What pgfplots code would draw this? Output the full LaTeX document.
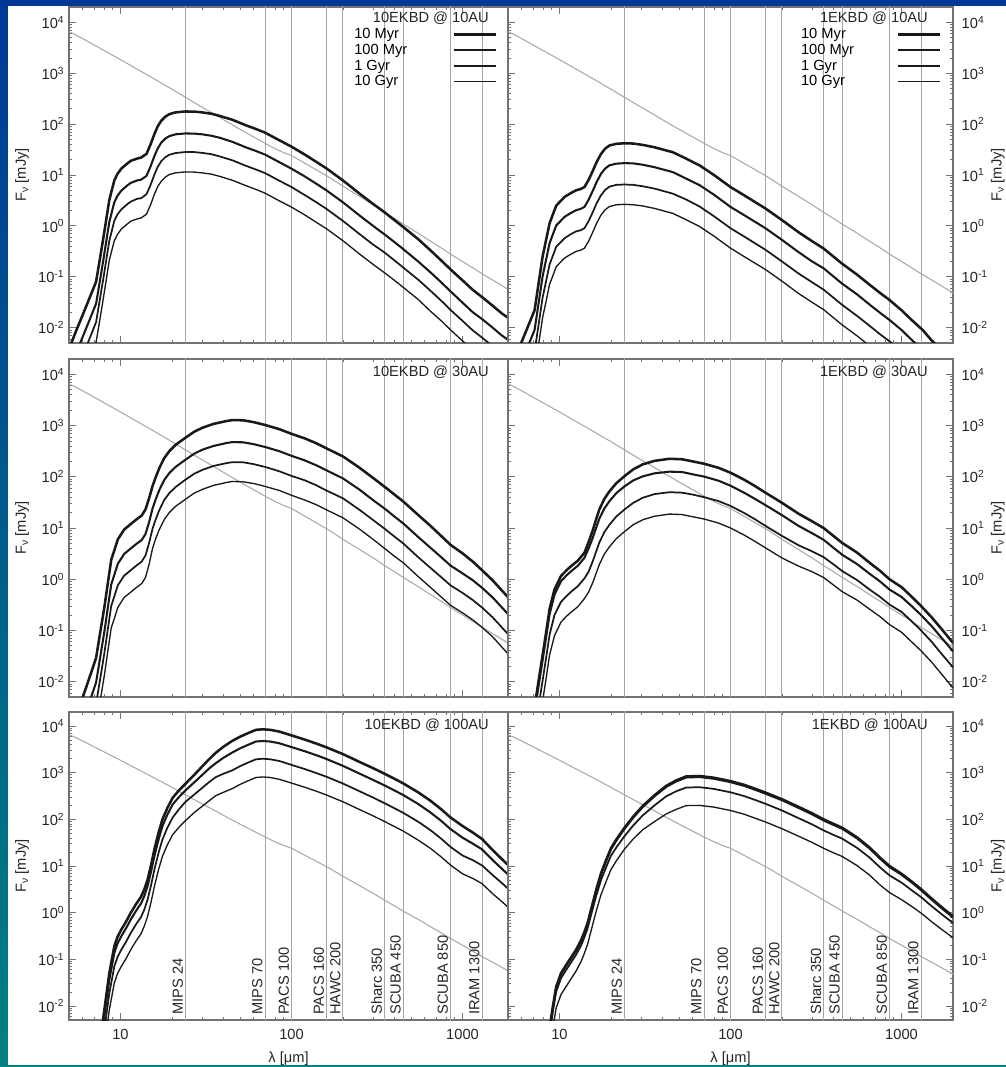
\documentclass[border=0pt]{standalone}
\usepackage{fontspec}
\setmainfont{Liberation Sans}
\usepackage{pgfplots}
\usepackage{pgfplotstable}
\pgfplotsset{compat=1.18}

\definecolor{bgtop}{RGB}{0,56,150}
\definecolor{bgbot}{RGB}{0,128,128}
\definecolor{instr}{RGB}{165,165,165}
\definecolor{starc}{RGB}{170,170,170}
\definecolor{frame}{RGB}{115,115,115}

\pgfplotstableread{
lam f
5 6500
5.4 5800
6 4800
7 3600
8 2800
9 2250
10 1850
12 1300
15 850
18 595
20 485
24 335
30 215
35 160
40 122
50 79
60 56
70 42
80 33
90 27.5
100 24
110 20
130 14.5
150 11
170 8.6
200 6.0
250 3.8
300 2.6
350 1.85
400 1.4
450 1.08
550 0.72
650 0.5
750 0.37
850 0.28
1000 0.2
1300 0.115
1600 0.076
2000 0.048
}\tabStar

\pgfplotstableread{
lam a b c d
5.0 0.0038 0.0014 0.0006 0.00025
5.5 0.0086 0.0032 0.00136 0.00056
6.0 0.0175 0.0065 0.0028 0.00114
6.5 0.034 0.0126 0.0054 0.0022
7.0 0.063 0.0233 0.0101 0.0041
7.2 0.08 0.0296 0.0128 0.0052
7.6 0.236 0.087 0.038 0.0153
7.9 0.52 0.192 0.083 0.034
8.2 1.15 0.43 0.184 0.075
8.6 3.2 1.18 0.51 0.21
9.2 7.8 2.9 1.25 0.51
9.6 10.5 3.9 1.68 0.68
10.1 13.3 4.9 2.1 0.86
11 17 6.3 2.7 1.1
11.5 19 7.0 3.0 1.24
12.5 21 7.8 3.4 1.37
13.2 22 8.1 3.5 1.43
14.2 26 9.6 4.2 1.7
15 40 14.8 6.4 2.6
15.8 64 23.7 10.2 4.2
16.5 90 33 14.4 5.9
17.3 116 43 18.6 7.5
18.3 140 52 22.4 9.1
19.3 157 58 25 10.2
21 170 63 27 11
24 177 65.5 28.3 11.5
27 176 65 28.2 11.4
30 170 63 27.2 11
34 160 59 25.6 10.4
38 145 54 23.2 9.4
45 122 45 19.5 7.9
54 95 35 15.2 6.2
62 80 29.6 12.8 5.2
70 68 25.2 10.9 4.4
85 48 17.8 7.7 3.1
100 36 13.3 5.8 2.34
120 25 9.3 4.0 1.63
140 18 6.7 2.9 1.17
160 13.5 5.0 2.16 0.88
200 7.8 2.9 1.25 0.51
250 4.3 1.6 0.69 0.28
300 2.7 1.0 0.43 0.175
350 1.85 0.68 0.3 0.12
400 1.3 0.48 0.21 0.085
450 0.95 0.35 0.152 0.062
550 0.55 0.2 0.088 0.036
650 0.33 0.122 0.053 0.021
750 0.21 0.078 0.034 0.0137
850 0.14 0.052 0.0224 0.0091
1000 0.085 0.031 0.0136 0.0055
1150 0.055 0.02 0.0088 0.0036
1300 0.04 0.0148 0.0064 0.0026
1500 0.027 0.01 0.0043 0.0018
1700 0.019 0.007 0.003 0.0012
2000 0.013 0.0048 0.0021 0.00085
}\tabA

\pgfplotstableread{
lam a b c d
5.0 0.0012 0.00049 0.00019 0.000076
5.5 0.0026 0.00106 0.0004 0.00016
6.0 0.0052 0.0021 0.0008 0.00033
6.5 0.01 0.0041 0.00155 0.00063
7.15 0.022 0.009 0.0034 0.0014
7.5 0.064 0.026 0.0099 0.004
7.97 0.25 0.102 0.039 0.0158
8.35 0.53 0.216 0.082 0.033
8.75 1.12 0.456 0.174 0.071
9.1 1.6 0.65 0.248 0.1
9.57 2.5 1.02 0.39 0.158
10.7 3.7 1.5 0.57 0.233
11.5 4.3 1.75 0.67 0.27
12.5 5.0 2.03 0.78 0.315
13.3 5.3 2.16 0.82 0.334
14 5.8 2.36 0.9 0.365
14.8 8 3.26 1.24 0.5
15.7 12.3 5.0 1.9 0.77
16.5 18 7.3 2.8 1.13
17.5 26 10.6 4.0 1.64
18.5 33 13.4 5.1 2.08
19.6 38 15.5 5.9 2.4
21.5 41 16.7 6.4 2.6
24 42 17.1 6.5 2.65
27 41.5 16.9 6.4 2.6
30.7 39 15.9 6.0 2.46
36 35 14.2 5.4 2.2
46 28 11.4 4.3 1.76
55 21 8.5 3.3 1.32
66 15.4 6.3 2.4 0.97
80 10 4.1 1.55 0.63
100 5.8 2.36 0.9 0.365
120 4.0 1.63 0.62 0.25
160 2.2 0.9 0.34 0.139
200 1.3 0.53 0.2 0.082
250 0.75 0.305 0.116 0.047
300 0.5 0.2 0.078 0.0315
350 0.36 0.147 0.056 0.0227
450 0.18 0.073 0.028 0.0113
550 0.11 0.045 0.017 0.0069
650 0.07 0.0285 0.0109 0.0044
750 0.048 0.0195 0.0074 0.003
850 0.035 0.0142 0.0054 0.0022
1000 0.022 0.009 0.0034 0.0014
1150 0.014 0.0057 0.0022 0.00088
1330 0.009 0.0037 0.0014 0.00057
1500 0.0056 0.0023 0.00087 0.00035
1700 0.0038 0.00155 0.0006 0.00024
2000 0.0024 0.001 0.00037 0.00015
}\tabB

\pgfplotstableread{
lam a b c d
5.0 0.00078 0.00026 0.0001 0.000037
5.5 0.002 0.00066 0.00025 0.000094
6.0 0.0048 0.0016 0.0006 0.000225
6.5 0.0105 0.0035 0.0013 0.00049
7.2 0.029 0.0096 0.0037 0.00136
7.6 0.088 0.029 0.011 0.0041
8.07 0.3 0.1 0.038 0.014
8.45 0.87 0.29 0.11 0.041
8.83 2.4 0.79 0.3 0.112
9.2 3.65 1.21 0.46 0.17
9.65 6.0 2.0 0.76 0.28
10.5 9.3 3.1 1.17 0.44
11.5 12 4.0 1.5 0.56
12.4 14.7 4.9 1.85 0.69
13.3 17.5 5.8 2.2 0.82
14 23 7.6 2.9 1.08
14.7 38 13 5.1 1.95
15.4 66 24 9.7 4.0
16.1 100 37 15 6.3
16.9 150 56 22.6 9.5
18 230 86 35 14.5
19.3 316 118 48 20
21 420 156 63 26.5
24 580 216 88 36.5
27 760 283 115 48
30.2 910 340 137 57
35 1080 400 163 68
41.3 1220 454 184 77
45 1280 476 193 81
52 1270 472 192 80
60 1170 435 177 74
70 1030 383 156 65
85 850 316 128 54
100 690 257 104 43.5
120 560 208 85 35
140 450 167 68 28.4
160 360 134 54 22.7
200 250 93 38 15.8
250 150 56 22.6 9.5
300 95 35 14.3 6.0
350 64 24 9.7 4.0
400 45 16.7 6.8 2.8
450 33 12.3 5.0 2.1
550 18 6.7 2.7 1.13
650 11 4.1 1.66 0.69
750 7 2.7 1.1 0.45
850 4.7 1.85 0.76 0.31
1000 3.2 1.3 0.54 0.22
1150 2.2 0.95 0.39 0.16
1300 1.5 0.68 0.28 0.115
1500 0.95 0.44 0.18 0.075
1700 0.6 0.28 0.114 0.047
2000 0.33 0.155 0.063 0.026
}\tabC

\pgfplotstableread{
lam a b c d
6.8 0.001 0.00079 0.00032 0.000126
7.0 0.002 0.0016 0.00063 0.00025
7.3 0.005 0.004 0.00158 0.00063
7.6 0.012 0.0095 0.0038 0.0015
8.0 0.036 0.0286 0.0114 0.0045
8.4 0.104 0.083 0.033 0.0131
8.75 0.26 0.206 0.082 0.033
9.35 0.63 0.5 0.2 0.079
10.2 1.15 0.91 0.36 0.145
11 1.5 1.19 0.47 0.19
11.7 1.8 1.43 0.57 0.227
12.8 2.3 1.83 0.73 0.29
14 3.3 2.62 1.04 0.42
14.8 5.3 4.0 1.4 0.56
15.7 9.3 6.6 2.3 0.88
16.4 15 10.2 3.5 1.32
17.1 23 15.2 5.2 1.93
18.3 37 24 8.3 3.1
19.6 52 33.5 11.6 4.3
21.5 75 48 16.8 6.2
24 103 65 23 8.5
27 140 85 31 11.6
30.7 175 102 39 14.5
36 205 117 46 17
44 225 126 50 18.7
52 220 124 49 18.3
60 200 112 45 16.6
70 180 101 40 15
85 150 84 33.6 12.5
100 120 67 27 10
120 88 49 19.7 7.3
140 65 36.5 14.6 5.4
160 49 28 11 4.1
200 31 17.8 7.0 2.6
250 19 11 4.6 1.8
300 13.5 7.9 3.5 1.4
350 10 5.9 2.7 1.08
400 7 4.1 1.95 0.77
450 5.1 3.0 1.44 0.57
550 3.3 1.97 0.96 0.39
650 2.1 1.28 0.63 0.26
750 1.45 0.9 0.45 0.185
850 1.0 0.63 0.32 0.13
1000 0.7 0.45 0.23 0.092
1150 0.45 0.295 0.149 0.059
1300 0.3 0.2 0.1 0.04
1500 0.18 0.121 0.06 0.024
1700 0.11 0.074 0.036 0.0145
2000 0.057 0.039 0.019 0.0075
}\tabD

\pgfplotstableread{
lam a b c d
7.6 0.00175 0.00126 0.00065 0.00028
7.9 0.005 0.0036 0.00185 0.00081
8.2 0.0138 0.0099 0.0051 0.00224
8.6 0.05 0.036 0.0185 0.0081
9.2 0.19 0.137 0.07 0.031
9.6 0.3 0.216 0.111 0.049
10.1 0.43 0.31 0.159 0.07
10.8 0.65 0.47 0.24 0.105
11.5 1.0 0.72 0.37 0.162
12.3 1.5 1.08 0.555 0.243
13.2 2.2 1.58 0.81 0.356
13.8 3.2 2.3 1.18 0.52
14.4 5.1 3.7 1.89 0.83
15.1 10.5 7.6 3.9 1.7
15.8 23 16.6 8.5 3.7
16.7 52 37 19.2 8.4
17.6 100 72 37 16.2
18.8 175 126 66 28.4
20.2 290 209 110 47
22 420 302 165 68
24 580 418 238 94
27 900 620 340 140
30 1350 890 470 190
33 1950 1230 630 250
36 2650 1590 800 320
40 3600 2090 950 380
45 4800 2700 1120 456
50 5900 3320 1380 560
56 7100 3990 1660 675
62 8300 4660 1940 790
68 8500 4780 1990 810
75 8300 4660 1940 790
85 7600 4270 1780 720
100 6300 3540 1470 600
120 5100 2870 1190 485
140 4200 2360 980 400
160 3500 1970 820 333
200 2500 1400 585 238
250 1700 955 400 162
300 1250 700 293 119
350 950 534 222 90
400 740 416 173 70
450 590 332 138 56
550 380 214 89 36
650 250 140 58.5 23.8
750 165 93 38.6 15.7
850 110 62 25.7 10.5
1000 72 40.5 16.8 6.8
1150 52 30 13.3 5.4
1300 38 22.8 10.3 4.2
1500 22 13.4 6.4 2.55
1700 14 8.7 4.3 1.72
2000 8 5.0 2.5 1.0
}\tabE

\pgfplotstableread{
lam a b c d
8.6 0.0023 0.0022 0.0018 0.0008
8.9 0.005 0.0048 0.0039 0.00175
9.2 0.011 0.0105 0.0086 0.0039
9.57 0.026 0.0247 0.0203 0.0091
10.2 0.05 0.0475 0.039 0.0175
11 0.078 0.074 0.061 0.027
11.7 0.11 0.105 0.086 0.0385
12.5 0.16 0.152 0.125 0.056
13.4 0.26 0.247 0.2 0.091
14 0.39 0.37 0.3 0.136
14.6 0.6 0.57 0.46 0.21
15.5 1.4 1.33 1.06 0.49
16.4 3.1 2.95 2.3 1.08
17.5 7 6.65 5.0 2.45
18.8 13.8 13.1 9.7 4.8
20 24 22.8 16.6 8.4
21.5 37 35 25 12.9
24 66 63 43.6 23
27 115 109 74 38
30.7 194 184 122 60
36 330 314 200 90
42 520 494 310 130
48 680 646 398 163
55 830 789 480 197
66 850 808 489 199
80 780 741 449 183
100 660 627 380 155
120 550 523 316 129
140 450 428 259 105
160 375 356 216 88
200 270 257 155 63
250 185 176 106 43.5
300 135 128 78 32
350 100 95 58 24
400 80 76 46.4 19.2
450 66 63 38.6 16
550 41 39 24.4 10.2
650 25 23.8 15.2 6.4
750 15 14.3 9.3 3.9
850 10 9.5 6.3 2.7
1000 6.8 6.5 4.4 1.9
1150 4.6 4.4 3.0 1.35
1300 3.2 3.04 2.16 0.98
1500 2.0 1.9 1.38 0.64
1700 1.35 1.28 0.95 0.45
2000 0.83 0.79 0.6 0.29
}\tabF

\tikzset{
  c1/.style={black!90, line width=1.9pt},
  c2/.style={black!90, line width=1.55pt},
  c3/.style={black!90, line width=1.3pt},
  c4/.style={black!90, line width=1.0pt},
  ptitle/.style={anchor=east, inner sep=0pt, font=\fontsize{11}{13}\selectfont, text=black!85},
  ilab/.style={rotate=90, anchor=south west, inner xsep=0pt, inner ysep=1.6pt, font=\fontsize{11}{13}\selectfont, text=black!85},
}

\newcommand{\instrlines}{%
  \addplot[instr, line width=0.75pt, forget plot] coordinates {(24,0.0001) (24,100000)};
  \addplot[instr, line width=0.75pt, forget plot] coordinates {(70,0.0001) (70,100000)};
  \addplot[instr, line width=0.75pt, forget plot] coordinates {(100,0.0001) (100,100000)};
  \addplot[instr, line width=0.75pt, forget plot] coordinates {(160,0.0001) (160,100000)};
  \addplot[instr, line width=0.75pt, forget plot] coordinates {(200,0.0001) (200,100000)};
  \addplot[instr, line width=0.75pt, forget plot] coordinates {(350,0.0001) (350,100000)};
  \addplot[instr, line width=0.75pt, forget plot] coordinates {(450,0.0001) (450,100000)};
  \addplot[instr, line width=0.75pt, forget plot] coordinates {(850,0.0001) (850,100000)};
  \addplot[instr, line width=0.75pt, forget plot] coordinates {(1300,0.0001) (1300,100000)};
  \addplot[starc, line width=0.8pt, forget plot] table[x=lam,y=f]{\tabStar};
}
\newcommand{\curves}[1]{%
  \addplot[c1] table[x=lam,y=a]{#1};
  \addplot[c2] table[x=lam,y=b]{#1};
  \addplot[c3] table[x=lam,y=c]{#1};
  \addplot[c4] table[x=lam,y=d]{#1};
}
\newcommand{\instrlabels}{%
  \node[ilab] at (axis cs:24,0.0064) {MIPS 24};
  \node[ilab] at (axis cs:70,0.0064) {MIPS 70};
  \node[ilab] at (axis cs:100,0.0064) {PACS 100};
  \node[ilab] at (axis cs:160,0.0064) {PACS 160};
  \node[ilab] at (axis cs:200,0.0064) {HAWC 200};
  \node[ilab] at (axis cs:350,0.0064) {Sharc 350};
  \node[ilab] at (axis cs:450,0.0064) {SCUBA 450};
  \node[ilab] at (axis cs:850,0.0064) {SCUBA 850};
  \node[ilab] at (axis cs:1300,0.0064) {IRAM 1300};
}

\pgfplotsset{
  every axis/.append style={
    scale only axis,
    xmin=5, ymin=0.005, ymax=20000,
    xtick={10,100,1000},
    ytick={0.01,0.1,1,10,100,1000,10000},
    minor xtick={6,7,8,9,20,30,40,50,60,70,80,90,200,300,400,500,600,700,800,900,2000},
    minor ytick={0.006,0.007,0.008,0.009,0.02,0.03,0.04,0.05,0.06,0.07,0.08,0.09,0.2,0.3,0.4,0.5,0.6,0.7,0.8,0.9,2,3,4,5,6,7,8,9,20,30,40,50,60,70,80,90,200,300,400,500,600,700,800,900,2000,3000,4000,5000,6000,7000,8000,9000},
    yticklabels={10\textsuperscript{-2},10\textsuperscript{-1},10\textsuperscript{0},10\textsuperscript{1},10\textsuperscript{2},10\textsuperscript{3},10\textsuperscript{4}},
    axis line style={draw=frame, line width=0.9pt},
    major tick style={draw=frame, line width=0.6pt},
    minor tick style={draw=frame, line width=0.5pt},
    major tick length=5.5pt, minor tick length=2.6pt,
    tick align=inside,
    tick label style={font=\fontsize{11}{13}\selectfont, text=black!85},
    xticklabel style={yshift=-3.5pt},
    xlabel style={font=\fontsize{11}{13}\selectfont, text=black!85, overlay,
                  at={(axis description cs:0.5,0)}, anchor=base, yshift=-31.5pt},
    ylabel style={font=\fontsize{11}{13}\selectfont, text=black!85},
  },
}

\begin{document}
\begin{tikzpicture}
\shade[top color=bgtop, bottom color=bgbot] (0,0) rectangle (754.5pt,800.25pt);
\fill[white] (6pt,1.5pt) rectangle (754.5pt,795.75pt);

% ---------- row 3 ----------
\begin{semilogyaxis}[xmode=log, at={(51.75pt,35.25pt)}, anchor=south west, width=329.25pt, height=231pt,
  xmax=1845, ytick pos=left, xticklabels={10,100,1000}, xlabel={λ [μm]}, ylabel={F\textsubscript{ν} [mJy]}]
\instrlines
\curves{\tabE}
\instrlabels
\node[ptitle] at (axis description cs:0.957,0.958) {10EKBD @ 100AU};
\end{semilogyaxis}
\begin{semilogyaxis}[xmode=log, at={(381pt,35.25pt)}, anchor=south west, width=333.75pt, height=231pt,
  xmax=2000, yticklabel pos=right, yticklabel style={xshift=3pt}, xticklabels={10,100,1000}, xlabel={λ [μm]},
  ylabel={F\textsubscript{ν} [mJy]}, ylabel style={overlay, yshift=4.5pt}]
\instrlines
\curves{\tabF}
\instrlabels
\node[ptitle] at (axis description cs:0.944,0.958) {1EKBD @ 100AU};
\end{semilogyaxis}

% ---------- row 2 ----------
\begin{semilogyaxis}[xmode=log, at={(51.75pt,277.5pt)}, anchor=south west, width=329.25pt, height=253.5pt,
  xmax=1845, ytick pos=left, xticklabels={}, ylabel={F\textsubscript{ν} [mJy]}]
\instrlines
\curves{\tabC}
\node[ptitle] at (axis description cs:0.957,0.962) {10EKBD @ 30AU};
\end{semilogyaxis}
\begin{semilogyaxis}[xmode=log, at={(381pt,277.5pt)}, anchor=south west, width=333.75pt, height=253.5pt,
  xmax=2000, yticklabel pos=right, yticklabel style={xshift=3pt}, xticklabels={},
  ylabel={F\textsubscript{ν} [mJy]}, ylabel style={overlay, yshift=4.5pt}]
\instrlines
\curves{\tabD}
\node[ptitle] at (axis description cs:0.944,0.962) {1EKBD @ 30AU};
\end{semilogyaxis}

% ---------- row 1 ----------
\begin{semilogyaxis}[xmode=log, at={(51.75pt,543pt)}, anchor=south west, width=329.25pt, height=252pt,
  xmax=1845, ytick pos=left, xticklabels={}, ylabel={F\textsubscript{ν} [mJy]},
  legend style={at={(0.634,0.953)}, anchor=north west, draw=none, fill=none,
      font=\fontsize{11}{13}\selectfont, row sep=-1.4pt,
      /tikz/every odd column/.append style={column sep=32pt}},
  legend plot pos=right, legend cell align=left,
  legend image code/.code={\draw[#1] (0pt,0pt) -- (31.5pt,0pt);}]
\instrlines
\curves{\tabA}
\legend{10 Myr,100 Myr,1 Gyr,10 Gyr}
\node[ptitle] at (axis description cs:0.957,0.967) {10EKBD @ 10AU};
\end{semilogyaxis}
\begin{semilogyaxis}[xmode=log, at={(381pt,543pt)}, anchor=south west, width=333.75pt, height=252pt,
  xmax=2000, yticklabel pos=right, yticklabel style={xshift=3pt}, xticklabels={},
  ylabel={F\textsubscript{ν} [mJy]}, ylabel style={overlay, yshift=4.5pt},
  legend style={at={(0.643,0.953)}, anchor=north west, draw=none, fill=none,
      font=\fontsize{11}{13}\selectfont, row sep=-1.4pt,
      /tikz/every odd column/.append style={column sep=30pt}},
  legend plot pos=right, legend cell align=left,
  legend image code/.code={\draw[#1] (0pt,0pt) -- (31.5pt,0pt);}]
\instrlines
\curves{\tabB}
\legend{10 Myr,100 Myr,1 Gyr,10 Gyr}
\node[ptitle] at (axis description cs:0.944,0.967) {1EKBD @ 10AU};
\end{semilogyaxis}
\end{tikzpicture}
\end{document}
